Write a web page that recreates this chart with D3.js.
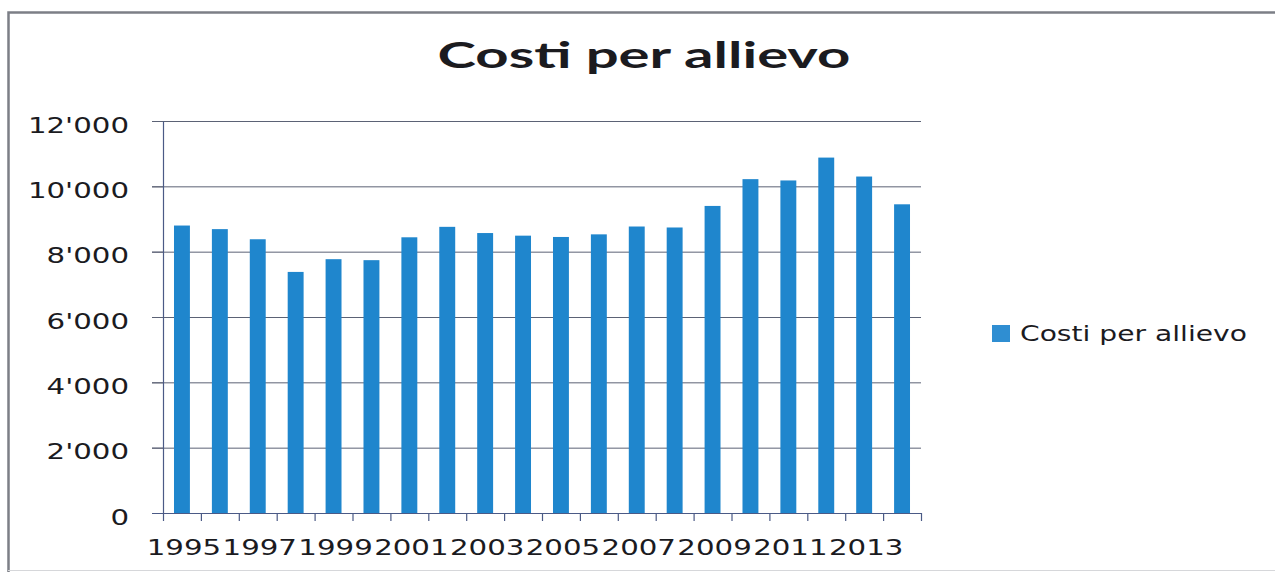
<!DOCTYPE html>
<html>
<head>
<meta charset="utf-8">
<script src="https://cdn.jsdelivr.net/npm/d3@7"></script>
<style>
  html, body { margin: 0; padding: 0; background: #fff; }
  svg { display: block; }
  text { font-family: "DejaVu Sans", sans-serif; fill: #1b1b1f; }
</style>
</head>
<body>
<svg id="chart" width="1275" height="572"></svg>
<script>
// Spending per student, 1995–2014
const years = [1995, 1996, 1997, 1998, 1999, 2000, 2001, 2002, 2003, 2004,
               2005, 2006, 2007, 2008, 2009, 2010, 2011, 2012, 2013, 2014];
const costs = [8800, 8690, 8380, 7380, 7770, 7740, 8440, 8760, 8570, 8490,
               8450, 8530, 8770, 8740, 9400, 10220, 10180, 10880, 10300, 9450];
const yTicks = [0, 2000, 4000, 6000, 8000, 10000, 12000];
const xLabelYears = [1995, 1997, 1999, 2001, 2003, 2005, 2007, 2009, 2011, 2013];
const seriesName = "Costi per allievo";
const titleText = "Costi per allievo";

const svg = d3.select("#chart");
const W = 1275, H = 572;
const plot = { left: 163, right: 921, top: 121, bottom: 513 };
const barColor = "#1f86cd";
const gridColor = "#5b6275";
const axisColor = "#4b5a86";
const stretch = 1.33; // wide tick lettering

// outer chart frame: strong top and left edges, faint bottom edge
svg.append("path")
  .attr("d", `M8.5,${H} V12.5 H${W}`)
  .attr("fill", "none").attr("stroke", "#7c7f86").attr("stroke-width", 2.5);
svg.append("line")
  .attr("x1", 8).attr("x2", W).attr("y1", 570.5).attr("y2", 570.5)
  .attr("stroke", "#d6d7da").attr("stroke-width", 1);

const x = d3.scaleBand().domain(years).range([plot.left, plot.right]).padding(0);
const y = d3.scaleLinear().domain([0, 12000]).range([plot.bottom, plot.top]);
const fmt = v => v === 0 ? "0" : d3.format(",")(v).replace(/,/g, "'");

// horizontal gridlines, extended left past the axis as tick marks
svg.append("g").selectAll("line").data(yTicks.filter(d => d > 0)).join("line")
  .attr("x1", plot.left - 11).attr("x2", plot.right)
  .attr("y1", d => y(d) + 0.5).attr("y2", d => y(d) + 0.5)
  .attr("stroke", gridColor).attr("stroke-width", 1);

// bars
const barW = x.bandwidth() * 0.42;
svg.append("g").selectAll("rect").data(years).join("rect")
  .attr("x", (d) => x(d) + (x.bandwidth() - barW) / 2)
  .attr("width", barW)
  .attr("y", (d, i) => y(costs[i]))
  .attr("height", (d, i) => y(0) - y(costs[i]))
  .attr("fill", barColor);

// y axis
const yAxis = svg.append("g")
  .attr("transform", `translate(${plot.left},0)`)
  .call(d3.axisLeft(y).tickValues(yTicks).tickSize(11).tickSizeOuter(0).tickFormat(fmt));
yAxis.select(".domain").attr("stroke", axisColor).attr("stroke-width", 1.2);
yAxis.selectAll(".tick line").attr("stroke", gridColor);
yAxis.selectAll(".tick text")
  .attr("x", 0).attr("dy", "0.5em")
  .attr("transform", `translate(-34,0) scale(${stretch},1)`)
  .style("font-size", "22px").attr("fill", "#1b1b1f");

// x axis: ticks on band boundaries, labels on every other year
const xAxisG = svg.append("g").attr("transform", `translate(0,${plot.bottom})`);
xAxisG.append("line")
  .attr("x1", plot.left - 11).attr("x2", plot.right + 1)
  .attr("y1", 0.5).attr("y2", 0.5)
  .attr("stroke", axisColor).attr("stroke-width", 1.2);
const boundaries = years.map(d => x(d)).concat([plot.right]);
xAxisG.selectAll("line.tk").data(boundaries).join("line")
  .attr("class", "tk")
  .attr("x1", d => d + 0.5).attr("x2", d => d + 0.5)
  .attr("y1", 0).attr("y2", 8)
  .attr("stroke", axisColor).attr("stroke-width", 1.2);
xAxisG.selectAll("text").data(xLabelYears).join("text")
  .attr("text-anchor", "middle")
  .attr("transform", d => `translate(${x(d) + x.bandwidth() / 2 + 2},42) scale(${stretch},1)`)
  .style("font-size", "22px")
  .text(d => d);

// title, fitted to its width
const title = svg.append("text")
  .attr("text-anchor", "middle")
  .style("font-family", "Lato, 'Open Sans', sans-serif")
  .style("font-size", "37px").style("font-weight", "bold")
  .attr("fill", "#1e1f24")
  .text(titleText);
const tw = title.node().getComputedTextLength();
title.attr("transform", `translate(644,68) scale(${413 / tw},1)`);

// legend
const lg = svg.append("g");
lg.append("rect").attr("x", 992).attr("y", 325).attr("width", 18).attr("height", 17)
  .attr("fill", "#2f8ed2");
const lt = lg.append("text").style("font-size", "21px").text(seriesName);
const lw = lt.node().getComputedTextLength();
lt.attr("transform", `translate(1020,341) scale(${227 / lw},1)`);
</script>
</body>
</html>
